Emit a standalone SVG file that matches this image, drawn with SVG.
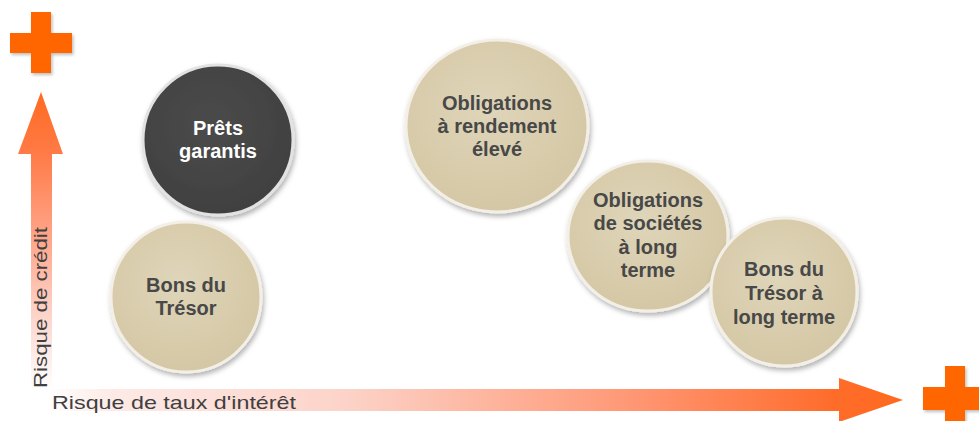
<svg xmlns="http://www.w3.org/2000/svg" width="979" height="421" viewBox="0 0 979 421">
  <defs>
    <linearGradient id="gv" gradientUnits="userSpaceOnUse" x1="0" y1="390" x2="0" y2="92">
      <stop offset="0" stop-color="#ffffff"/>
      <stop offset="0.15" stop-color="#fde6e2"/>
      <stop offset="0.5" stop-color="#ffa78c"/>
      <stop offset="0.8" stop-color="#ff7a45"/>
      <stop offset="1" stop-color="#ff6a20"/>
    </linearGradient>
    <linearGradient id="gh" gradientUnits="userSpaceOnUse" x1="45" y1="0" x2="903" y2="0">
      <stop offset="0" stop-color="#ffffff"/>
      <stop offset="0.08" stop-color="#fdeae6"/>
      <stop offset="0.35" stop-color="#fcd3c9"/>
      <stop offset="0.7" stop-color="#ff9470"/>
      <stop offset="0.92" stop-color="#ff6c2a"/>
      <stop offset="1" stop-color="#ff6a1e"/>
    </linearGradient>
    <radialGradient id="beige" cx="0.45" cy="0.4" r="0.65">
      <stop offset="0" stop-color="#dfd5b9"/>
      <stop offset="1" stop-color="#d3c6a3"/>
    </radialGradient>
    <radialGradient id="dark" cx="0.45" cy="0.4" r="0.65">
      <stop offset="0" stop-color="#4a4a4a"/>
      <stop offset="1" stop-color="#404040"/>
    </radialGradient>
    <filter id="sh" x="-20%" y="-20%" width="140%" height="140%">
      <feDropShadow dx="1.5" dy="3" stdDeviation="2.5" flood-color="#000" flood-opacity="0.3"/>
    </filter>
    <filter id="psh" x="-20%" y="-20%" width="140%" height="140%">
      <feDropShadow dx="1.5" dy="2" stdDeviation="1.5" flood-color="#000" flood-opacity="0.25"/>
    </filter>
  </defs>
  <style>
    .lbl { font-family: "Liberation Sans", Arial, sans-serif; font-weight: bold; font-size: 20px; text-anchor: middle; fill: #484848; }
    .lbl.w { fill: #ffffff; }
    .ax { font-family: "Liberation Sans", Arial, sans-serif; font-size: 19px; fill: #404040; }
    .cb { fill: url(#beige); stroke: #f3efe6; stroke-width: 3; filter: url(#sh); }
    .cd { fill: url(#dark); stroke: #e2e2e2; stroke-width: 3; filter: url(#sh); }
    .plus { fill: #ff6600; filter: url(#psh); }
  </style>
  <rect width="979" height="421" fill="#ffffff"/>

  <g id="axes">
    <polygon points="31,390 31,154 18,154 41,92 63,154 52,154 52,390" fill="url(#gv)"/>
    <polygon points="45,389 839,389 839,378 903,400 839,422 839,411 45,411" fill="url(#gh)"/>
    <text class="ax" transform="translate(47,388) rotate(-90)" textLength="161" lengthAdjust="spacingAndGlyphs">Risque de crédit</text>
    <text class="ax" x="52" y="409" textLength="244" lengthAdjust="spacingAndGlyphs">Risque de taux d'intérêt</text>
  </g>

  <g id="plus-top">
    <path class="plus" d="M31,12 H51 V33 H72 V53 H51 V73 H31 V53 H10 V33 H31 Z"/>
  </g>
  <g id="plus-right">
    <path class="plus" d="M945,366 H965 V387 H990 V410 H965 V432 H945 V410 H923 V387 H945 Z"/>
  </g>

  <g id="connectors"></g>

  <g id="node-prets">
    <circle class="cd" cx="218" cy="140" r="75"/>
    <text class="lbl w" x="218" y="135">Prêts</text>
    <text class="lbl w" x="218" y="158">garantis</text>
  </g>
  <g id="node-bons">
    <circle class="cb" cx="186" cy="297" r="75"/>
    <text class="lbl" x="186" y="292">Bons du</text>
    <text class="lbl" x="186" y="315">Trésor</text>
  </g>
  <g id="node-oblig-rendement">
    <ellipse class="cb" cx="497" cy="126" rx="91" ry="86"/>
    <text class="lbl" x="497" y="110">Obligations</text>
    <text class="lbl" x="497" y="133">à rendement</text>
    <text class="lbl" x="497" y="156">élevé</text>
  </g>
  <g id="node-oblig-societes">
    <ellipse class="cb" cx="648" cy="236" rx="80" ry="75"/>
    <text class="lbl" x="648" y="207">Obligations</text>
    <text class="lbl" x="648" y="230">de sociétés</text>
    <text class="lbl" x="648" y="254">à long</text>
    <text class="lbl" x="648" y="277">terme</text>
  </g>
  <g id="node-bons-long">
    <ellipse class="cb" cx="784" cy="292" rx="73" ry="74"/>
    <text class="lbl" x="784" y="276">Bons du</text>
    <text class="lbl" x="784" y="300">Trésor à</text>
    <text class="lbl" x="784" y="324">long terme</text>
  </g>
</svg>
